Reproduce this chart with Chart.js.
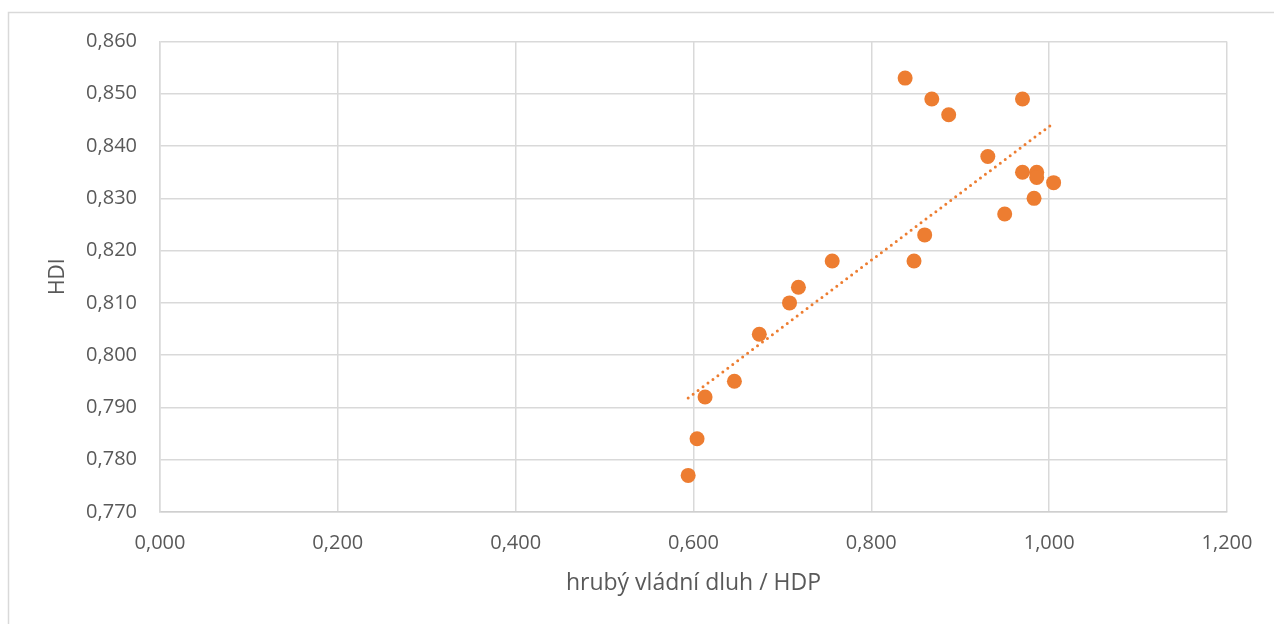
<!DOCTYPE html>
<html>
<head>
<meta charset="utf-8">
<script src="https://cdn.jsdelivr.net/npm/chart.js@4.4.1/dist/chart.umd.min.js"></script>
<style>
html,body{margin:0;padding:0;background:#fff;overflow:hidden;}
#wrap{position:absolute;left:0;top:0;width:1274px;height:624px;}
</style>
</head>
<body>
<div id="wrap"><canvas id="c" width="1274" height="624"></canvas></div>
<script>
// Data
const debtRatio = [0.838, 0.868, 0.887, 0.970, 0.931, 0.970, 0.986, 0.986, 1.005, 0.983, 0.950, 0.860, 0.848, 0.756, 0.718, 0.708, 0.674, 0.646, 0.613, 0.604, 0.594];
const hdi       = [0.853, 0.849, 0.846, 0.849, 0.838, 0.835, 0.835, 0.834, 0.833, 0.830, 0.827, 0.823, 0.818, 0.818, 0.813, 0.810, 0.804, 0.795, 0.792, 0.784, 0.777];
// Linear trendline endpoints
const trendX = [0.594, 1.005];
const trendY = [0.7918, 0.8444];
const xTitle = 'hrubý vládní dluh / HDP';
const yTitle = 'HDI';

const fontFam = '"Open Sans", sans-serif';
const txtColor = '#595959';
const orange = '#ED7D31';

const frame = {
  id: 'frame',
  beforeDraw(chart) {
    const ctx = chart.ctx;
    ctx.save();
    ctx.strokeStyle = '#d9d9d9';
    ctx.lineWidth = 1.5;
    ctx.strokeRect(8.5, 12.5, 1400, 700);
    ctx.restore();
  }
};

const fmt = v => v.toFixed(3).replace('.', ',');

new Chart(document.getElementById('c'), {
  type: 'scatter',
  data: {
    datasets: [
      {
        type: 'line',
        data: trendX.map((x, i) => ({x: x, y: trendY[i]})),
        borderColor: orange,
        borderWidth: 3,
        borderDash: [0, 6.2],
        borderCapStyle: 'round',
        pointRadius: 0,
        fill: false,
        tension: 0,
        order: 2
      },
      {
        data: debtRatio.map((x, i) => ({x: x, y: hdi[i]})),
        backgroundColor: orange,
        borderColor: orange,
        borderWidth: 0,
        pointRadius: 7.5,
        order: 1
      }
    ]
  },
  options: {
    responsive: false,
    animation: false,
    events: [],
    layout: { padding: { left: 45, top: 41.5, right: 47, bottom: 27 } },
    plugins: { legend: { display: false }, tooltip: { enabled: false } },
    scales: {
      x: {
        type: 'linear',
        min: 0, max: 1.2,
        ticks: { stepSize: 0.2, callback: v => fmt(v), color: txtColor, font: { family: fontFam, size: 20 }, padding: 19, maxRotation: 0 },
        grid: { color: '#d9d9d9', lineWidth: 1.5, drawTicks: false },
        border: { color: '#cfcfcf', width: 1.5 },
        title: { display: true, text: xTitle, color: txtColor, font: { family: fontFam, size: 23 }, padding: 0 },
        afterFit(s) { s.height = 85; }
      },
      y: {
        type: 'linear',
        min: 0.77, max: 0.86,
        ticks: { stepSize: 0.01, callback: v => fmt(v), color: txtColor, font: { family: fontFam, size: 20 }, padding: 23 },
        grid: { color: '#d9d9d9', lineWidth: 1.5, drawTicks: false },
        border: { color: '#d9d9d9', width: 1.5 },
        title: { display: true, text: yTitle, color: txtColor, font: { family: fontFam, size: 21 }, padding: 0 },
        afterFit(s) { s.width = 115; }
      }
    }
  },
  plugins: [frame]
});
</script>
</body>
</html>
